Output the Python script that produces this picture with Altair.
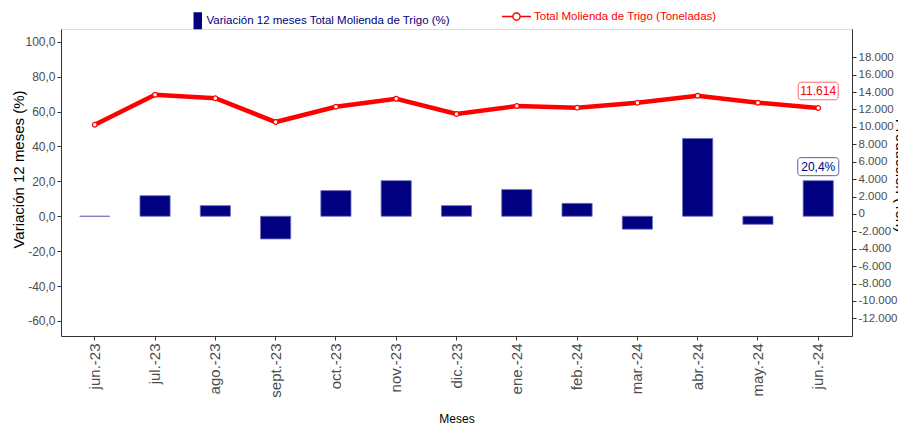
import altair as alt
import pandas as pd

months = ["jun.-23", "jul.-23", "ago.-23", "sept.-23", "oct.-23", "nov.-23", "dic.-23",
          "ene.-24", "feb.-24", "mar.-24", "abr.-24", "may.-24", "jun.-24"]
variacion = [0.0, 11.8, 6.1, -13.0, 14.7, 20.4, 6.1, 15.3, 7.4, -7.4, 44.6, -4.6, 20.4]
produccion = [10250, 13700, 13290, 10560, 12320, 13240, 11480, 12400, 12210, 12770, 13590, 12780, 12170]
label_prod = "11.614"
label_var = "20,4%"

bar_name = "Variación 12 meses Total Molienda de Trigo (%)"
line_name = "Total Molienda de Trigo (Toneladas)"

df = pd.DataFrame({"mes": months, "var": variacion, "prod": produccion,
                   "sb": bar_name, "sl": line_name})
ann = df.tail(1).assign(tprod=label_prod, tvar=label_var)

FONT = "Liberation Sans, Arial, sans-serif"
NAVY = "#000080"
RED = "#ff0000"
AX = "#333333"
LAB = "#4d4d4d"

RR = ("M-0.85,-0.44 H0.85 A0.15,0.15 0 0 1 1,-0.29 V0.29 A0.15,0.15 0 0 1 0.85,0.44 "
      "H-0.85 A0.15,0.15 0 0 1 -1,0.29 V-0.29 A0.15,0.15 0 0 1 -0.85,-0.44 Z")

x = alt.X("mes:N", sort=months, title="Meses",
          scale=alt.Scale(paddingInner=0.5, paddingOuter=0.31),
          axis=alt.Axis(labelAngle=-90, labelFont=FONT, labelFontSize=15, labelColor=LAB,
                        labelPadding=3, tickSize=4, tickColor=AX, domainColor=AX,
                        titleFont=FONT, titleFontSize=12, titleFontWeight="normal",
                        titleColor="black", titlePadding=16))

yl = alt.Y("var:Q", title="Variación 12 meses (%)",
           scale=alt.Scale(domain=[-68.6, 107.3], nice=False, zero=False),
           axis=alt.Axis(values=list(range(-60, 101, 20)), format=",.1f", grid=False,
                         labelFont=FONT, labelFontSize=12, labelColor=LAB, labelPadding=2,
                         tickSize=4, tickColor=AX, domainColor=AX,
                         titleFont=FONT, titleFontSize=15, titleFontWeight="normal",
                         titleColor="black", titleX=-43, titleY=140, titleBaseline="middle"))

yr = alt.Y("prod:Q", title="Producción (Ton)",
           scale=alt.Scale(domain=[-14030, 21250], nice=False, zero=False),
           axis=alt.Axis(orient="right", values=list(range(-12000, 18001, 2000)), format=",d",
                         grid=False, labelFont=FONT, labelFontSize=11.5, labelColor=LAB,
                         labelPadding=2, tickSize=4, tickColor=AX, domainColor=AX,
                         titleFont=FONT, titleFontSize=15, titleFontWeight="normal",
                         titleColor="black", titleAngle=90, titleX=43, titleY=146,
                         titleBaseline="alphabetic"))

bars = alt.Chart(df).mark_bar(stroke="#6b6bbd", strokeWidth=0.8).encode(
    x=x, y=yl,
    fill=alt.Fill("sb:N", scale=alt.Scale(range=[NAVY]),
                  legend=alt.Legend(title=None, orient="none", legendX=131, legendY=-14,
                                    symbolType="M-1,-2H1V2H-1Z", symbolSize=72,
                                    symbolStrokeWidth=0, labelColor=NAVY, labelFont=FONT,
                                    labelFontSize=11.5, labelOffset=3, labelLimit=0, padding=0)))
box_v = alt.Chart(ann).mark_point(shape=RR, size=1681, filled=True, fill="white", opacity=1,
                                   stroke="#5a5ab4", strokeWidth=1, yOffset=-14).encode(x=x, y=yl)
text_v = alt.Chart(ann).mark_text(color=NAVY, font=FONT, fontSize=12, dy=-14).encode(
    x=x, y=yl, text="tvar:N")

line = alt.Chart(df).mark_line(
    strokeWidth=4.5,
    point=alt.OverlayMarkDef(filled=True, fill="white", stroke=RED, strokeWidth=1.2, size=22, opacity=1)
).encode(
    x=x, y=yr,
    stroke=alt.Stroke("sl:N", scale=alt.Scale(range=[RED]),
                      legend=alt.Legend(title=None, orient="none", legendX=440, legendY=-28,
                                        symbolType="M-1,0H-0.25M0.25,0H1M-0.25,0A0.25,0.25 0 1,1 0.25,0A0.25,0.25 0 1,1 -0.25,0",
                                        symbolSize=841, symbolFillColor="white",
                                        symbolStrokeWidth=1.5, labelColor=RED, labelFont=FONT,
                                        labelFontSize=11.5, labelOffset=2, labelLimit=0, padding=0)))
box_p = alt.Chart(ann).mark_point(shape=RR, size=1600, filled=True, fill="white", opacity=1,
                                   stroke="#ff6b6b", strokeWidth=1, yOffset=-17).encode(x=x, y=yr)
text_p = alt.Chart(ann).mark_text(color=RED, font=FONT, fontSize=12, dy=-17).encode(
    x=x, y=yr, text="tprod:N")

left = alt.layer(bars, box_v, text_v)
right = alt.layer(line, box_p, text_p)

chart = alt.layer(left, right).resolve_scale(
    y="independent", fill="independent", stroke="independent"
).properties(
    width=791, height=307,
    padding={"left": 53, "top": 21, "right": 46, "bottom": 90},
    autosize=alt.AutoSizeParams(type="none"),
).configure_view(stroke=None).configure(
    locale=alt.Locale(number=alt.NumberLocale(decimal=",", thousands=".", grouping=[3],
                                              currency=["", ""], minus="-"))
)

chart.save("out.html", embed_options={"renderer": "svg", "actions": False})
